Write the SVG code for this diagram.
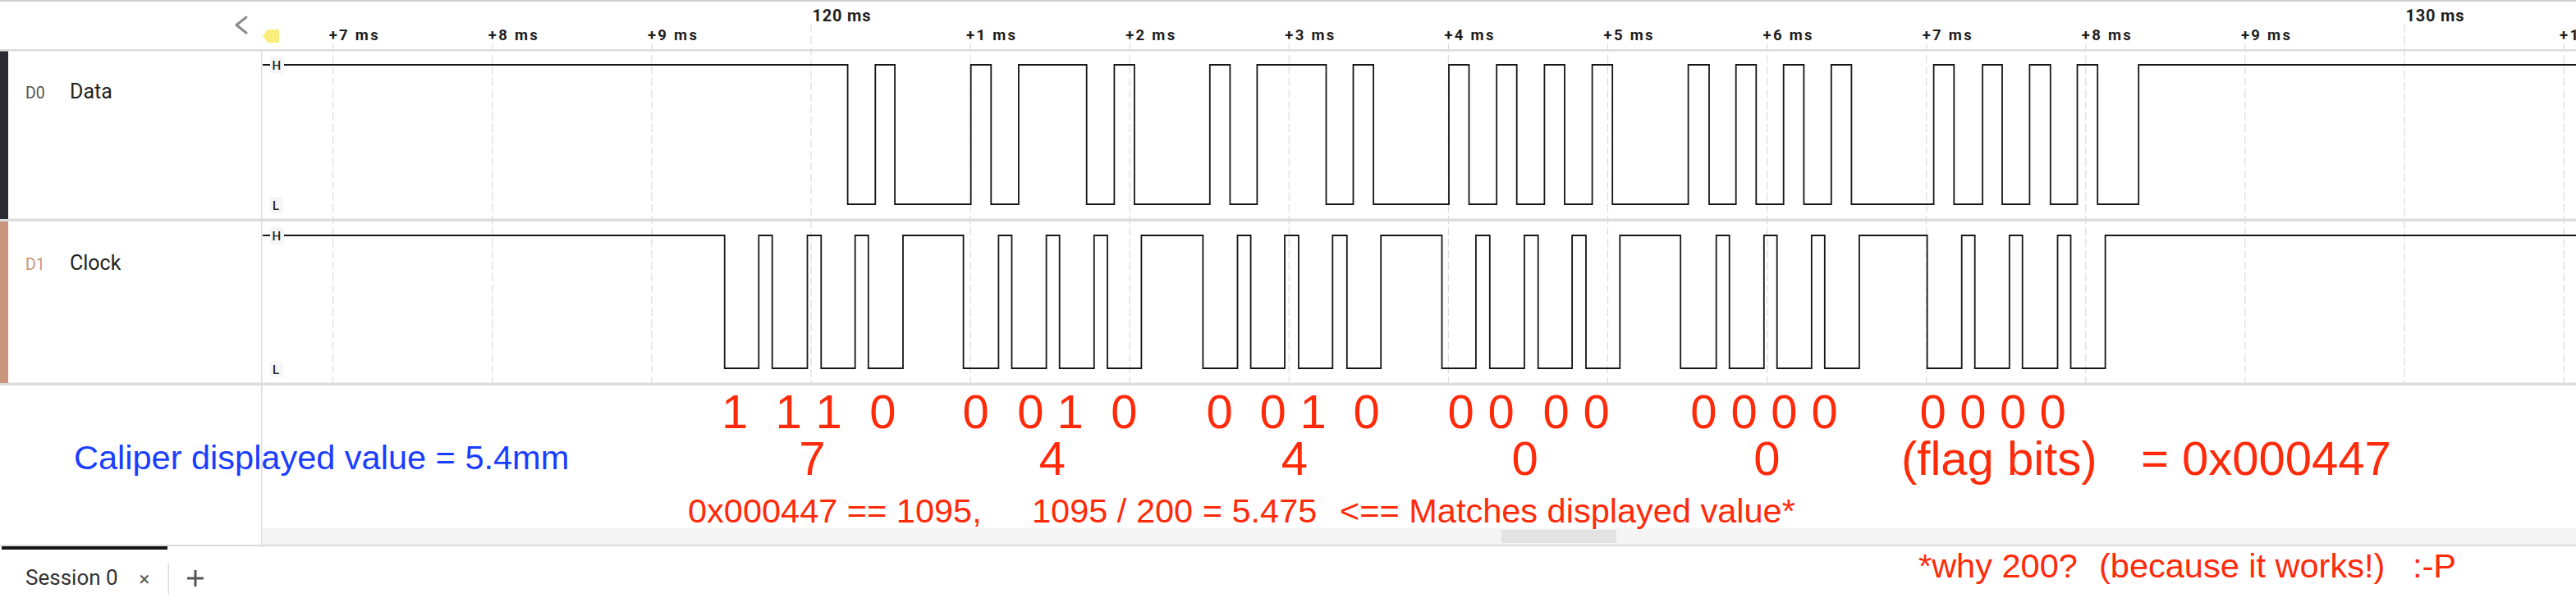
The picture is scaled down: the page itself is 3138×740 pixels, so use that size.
<svg xmlns="http://www.w3.org/2000/svg" width="3138" height="740" viewBox="0 0 3138 740">
<style>
.tick{stroke:#dcdcdc;stroke-width:1.2;stroke-dasharray:10 4;fill:none}
.tl{font-family:Roboto,"Liberation Sans",sans-serif;font-weight:700;font-size:18.5px;fill:#1e1e1e}
.tm{font-family:Roboto,"Liberation Sans",sans-serif;font-weight:700;font-size:20px;fill:#1e1e1e}
.sep{fill:#dcdcdc}
.wave{fill:none;stroke:#161616;stroke-width:1.8;stroke-linejoin:miter}
.hl{font-family:Roboto,"Liberation Sans",sans-serif;font-weight:500;font-size:15px;fill:#222}
.hlbox{fill:#f6f6f6}
.chn{font-family:Roboto,"Liberation Sans",sans-serif;font-size:19.5px}
.chname{font-family:Roboto,"Liberation Sans",sans-serif;font-size:25px;fill:#222}
.big{font-family:"Liberation Sans",Arial,sans-serif;font-size:58px;fill:#ff2a0a}
.mid{font-family:"Liberation Sans",Arial,sans-serif;font-size:41.5px;fill:#ff2a0a}
.blue{font-family:"Liberation Sans",Arial,sans-serif;font-size:41.5px;fill:#1a3dff}
</style>
<rect width="3138" height="740" fill="#ffffff"/>
<!-- top border -->
<rect x="0" y="0" width="3138" height="2" fill="#cfcfcf"/>

<g id="ruler">
  <polyline points="300,21 288,30.5 300,40" fill="none" stroke="#8a8a8a" stroke-width="3" stroke-linecap="round" stroke-linejoin="round"/>
  <polygon points="320,44 326,36 340,36 340,52 326,52" fill="#f9ee7c"/>
  <g id="tick-lines">
    <line class="tick" x1="405.7" y1="53" x2="405.7" y2="467"/>
    <line class="tick" x1="599.8" y1="53" x2="599.8" y2="467"/>
    <line class="tick" x1="793.9" y1="53" x2="793.9" y2="467"/>
    <line class="tick" x1="988" y1="30" x2="988" y2="467"/>
    <line class="tick" x1="1182.1" y1="53" x2="1182.1" y2="467"/>
    <line class="tick" x1="1376.2" y1="53" x2="1376.2" y2="467"/>
    <line class="tick" x1="1570.3" y1="53" x2="1570.3" y2="467"/>
    <line class="tick" x1="1764.4" y1="53" x2="1764.4" y2="467"/>
    <line class="tick" x1="1958.5" y1="53" x2="1958.5" y2="467"/>
    <line class="tick" x1="2152.6" y1="53" x2="2152.6" y2="467"/>
    <line class="tick" x1="2346.7" y1="53" x2="2346.7" y2="467"/>
    <line class="tick" x1="2540.8" y1="53" x2="2540.8" y2="467"/>
    <line class="tick" x1="2734.9" y1="53" x2="2734.9" y2="467"/>
    <line class="tick" x1="2929" y1="30" x2="2929" y2="467"/>
    <line class="tick" x1="3123.1" y1="53" x2="3123.1" y2="467"/>
  </g>
  <g id="tick-labels">
    <text class="tl" x="400.7" y="49" textLength="60">+7 ms</text>
    <text class="tl" x="594.8" y="49" textLength="60">+8 ms</text>
    <text class="tl" x="788.9" y="49" textLength="60">+9 ms</text>
    <text class="tm" x="989.5" y="26" textLength="71">120 ms</text>
    <text class="tl" x="1177.1" y="49" textLength="60">+1 ms</text>
    <text class="tl" x="1371.2" y="49" textLength="60">+2 ms</text>
    <text class="tl" x="1565.3" y="49" textLength="60">+3 ms</text>
    <text class="tl" x="1759.4" y="49" textLength="60">+4 ms</text>
    <text class="tl" x="1953.5" y="49" textLength="60">+5 ms</text>
    <text class="tl" x="2147.6" y="49" textLength="60">+6 ms</text>
    <text class="tl" x="2341.7" y="49" textLength="60">+7 ms</text>
    <text class="tl" x="2535.8" y="49" textLength="60">+8 ms</text>
    <text class="tl" x="2729.9" y="49" textLength="60">+9 ms</text>
    <text class="tm" x="2930.5" y="26" textLength="71">130 ms</text>
    <text class="tl" x="3118.1" y="49" textLength="60">+1 ms</text>
  </g>
</g>

<!-- separators and panel divider -->
<g id="frame">
  <rect class="sep" x="0" y="60" width="3138" height="2.5"/>
  <rect class="sep" x="0" y="266.5" width="3138" height="3.5"/>
  <rect class="sep" x="0" y="466.5" width="3138" height="3.5"/>
  <rect x="318" y="62" width="1.5" height="602" fill="#dcdcdc"/>
  <rect x="319.5" y="644" width="2818.5" height="20.5" fill="#f4f4f4"/>
  <rect x="1829" y="646" width="140" height="16" fill="#e2e2e2"/>
  <rect class="sep" x="0" y="664" width="3138" height="2"/>
</g>

<g id="ch-d0">
  <rect x="0" y="62.5" width="10" height="204.5" fill="#2a2a30"/>
  <text class="chn" x="31" y="120" fill="#555">D0</text>
  <text class="chname" x="85" y="120">Data</text>
  <path class="wave" d="M320,79 H1032.6 V249 H1066.3 V79 H1090.1 V249 H1182.7 V79 H1207.3 V249 H1240.9 V79 H1323.7 V249 H1357.4 V79 H1381.9 V249 H1473.8 V79 H1498.4 V249 H1531.4 V79 H1615.5 V249 H1648.5 V79 H1673.1 V249 H1765 V79 H1789.5 V249 H1823.2 V79 H1847.7 V249 H1881.4 V79 H1906 V249 H1939.6 V79 H1964.2 V249 H2056.6 V79 H2082 V249 H2114.7 V79 H2139.3 V249 H2172.7 V79 H2197.4 V249 H2230.8 V79 H2255.4 V249 H2355.6 V79 H2380.3 V249 H2415.1 V79 H2439 V249 H2472.4 V79 H2497.8 V249 H2530.5 V79 H2555.2 V249 H2605.2 V79 H3138"/>
  <rect class="hlbox" x="329" y="69" width="17" height="21" rx="3"/>
  <text class="hl" x="331.5" y="85">H</text>
  <rect class="hlbox" x="329" y="240" width="16" height="20" rx="3"/>
  <text class="hl" x="332" y="256">L</text>
</g>

<g id="ch-d1">
  <rect x="0" y="270" width="10" height="197" fill="#c9947b"/>
  <text class="chn" x="31" y="329" fill="#c9947b">D1</text>
  <text class="chname" x="85" y="329">Clock</text>
  <path class="wave" d="M320,287 H882.7 V449 H924.3 V287 H940.7 V449 H983.5 V287 H1000.3 V449 H1041.7 V287 H1057.8 V449 H1100 V287 H1173.6 V449 H1216.4 V287 H1232.5 V449 H1274.6 V287 H1290.7 V449 H1332.8 V287 H1349 V449 H1390.4 V287 H1465.4 V449 H1507.5 V287 H1523.6 V449 H1565 V287 H1581.9 V449 H1623.3 V287 H1640.8 V449 H1682.2 V287 H1756.5 V449 H1797.9 V287 H1814.8 V449 H1856.9 V287 H1873.7 V449 H1915.1 V287 H1932 V449 H1973.3 V287 H2047.2 V449 H2090.7 V287 H2106.7 V449 H2148.8 V287 H2164.7 V449 H2206.8 V287 H2222.8 V449 H2264.9 V287 H2347.6 V449 H2389.7 V287 H2405.7 V449 H2447.8 V287 H2463.7 V449 H2506.5 V287 H2522.5 V449 H2564.6 V287 H3138"/>
  <rect class="hlbox" x="329" y="277" width="17" height="21" rx="3"/>
  <text class="hl" x="331.5" y="293">H</text>
  <rect class="hlbox" x="329" y="440" width="16" height="20" rx="3"/>
  <text class="hl" x="332" y="456">L</text>
</g>

<g id="annotations">
  <text class="blue" x="90" y="572">Caliper displayed value = 5.4mm</text>
  <g id="bits">
    <text class="big" y="522" x="879 911 944.5 976 993.4 1025 1059.3">1 1 1 0</text>
    <text class="big" y="522" x="1172.6 1205 1239.2 1271 1287.5 1320 1353.2">0 0 1 0</text>
    <text class="big" y="522" x="1469.6 1502 1534.6 1567 1583.5 1616 1648.6">0 0 1 0</text>
    <text class="big" y="522" x="1763.4 1796 1812.4 1845 1879.6 1912 1928.6">0 0 0 0</text>
    <text class="big" y="522" x="2059.3 2091 2108.6 2141 2157.3 2190 2206.6">0 0 0 0</text>
    <text class="big" y="522" x="2338.6 2371 2387.3 2420 2435.9 2468 2484.6">0 0 0 0</text>
  </g>
  <g id="nibbles">
    <text class="big" y="579" x="989.4" text-anchor="middle">7</text>
    <text class="big" y="579" x="1282" text-anchor="middle">4</text>
    <text class="big" y="579" x="1577" text-anchor="middle">4</text>
    <text class="big" y="579" x="1857.7" text-anchor="middle">0</text>
    <text class="big" y="579" x="2152.4" text-anchor="middle">0</text>
    <text class="big" y="579"><tspan x="2316">(flag bits)</tspan><tspan x="2608">= 0x000447</tspan></text>
  </g>
  <text class="mid" y="637"><tspan x="838">0x000447 == 1095,</tspan><tspan x="1257">1095 / 200 = 5.475</tspan><tspan x="1632">&lt;== Matches displayed value*</tspan></text>
  <text class="mid" y="704"><tspan x="2337">*why 200?</tspan><tspan x="2557">(because it works!)</tspan><tspan x="2939">:-P</tspan></text>
</g>

<g id="footer">
  <rect x="2" y="666" width="202" height="4" fill="#161616"/>
  <text x="31" y="713" font-family="Roboto,'Liberation Sans',sans-serif" font-size="26" fill="#333">Session 0</text>
  <text x="176" y="714" text-anchor="middle" font-family="Roboto,'Liberation Sans',sans-serif" font-size="24" fill="#555">×</text>
  <rect x="204.5" y="687" width="1.5" height="38" fill="#dcdcdc"/>
  <path d="M238,695 V715 M228,705 H248" stroke="#555" stroke-width="3" fill="none"/>
</g>
</svg>
